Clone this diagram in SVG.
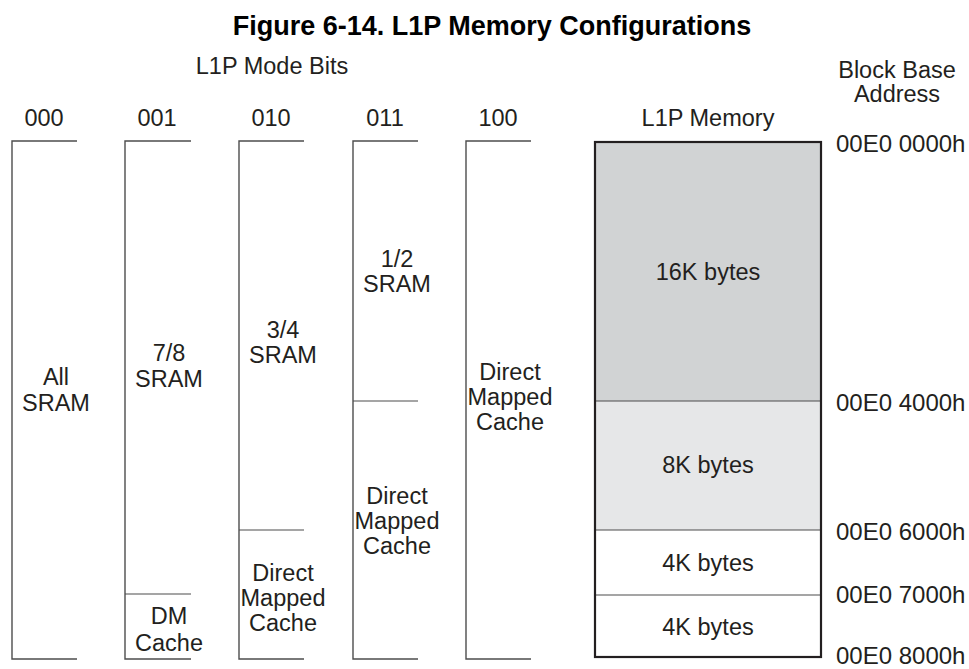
<svg xmlns="http://www.w3.org/2000/svg" width="969" height="669" viewBox="0 0 969 669">
  <style>
    text { font-family: "Liberation Sans", Arial, sans-serif; font-size: 23.5px; fill: #231f20; }
    .title { font-size: 27px; font-weight: bold; fill: #000; }
    .addr { font-size: 24px; }
    .mid { text-anchor: middle; }
    .col { fill: none; stroke: #4d4d4d; stroke-width: 1.4; }
    .div { stroke: #4d4d4d; stroke-width: 1.2; }
    .box { fill: none; stroke: #231f20; stroke-width: 2.2; }
  </style>

  <rect width="969" height="669" fill="#ffffff"/>

  <!-- headings -->
  <text class="title mid" x="492" y="35">Figure 6-14. L1P Memory Configurations</text>
  <text class="mid" x="272" y="74">L1P Mode Bits</text>
  <text class="mid" x="897" y="78">Block Base</text>
  <text class="mid" x="897" y="102">Address</text>

  <!-- mode bit column headers -->
  <text class="mid" x="44" y="126">000</text>
  <text class="mid" x="157" y="126">001</text>
  <text class="mid" x="271" y="126">010</text>
  <text class="mid" x="385" y="126">011</text>
  <text class="mid" x="498" y="126">100</text>
  <text class="mid" x="708" y="126">L1P Memory</text>

  <!-- mode 000 -->
  <g id="mode000">
    <path class="col" d="M77,141 H12 V659 H77"/>
    <text class="mid" x="56" y="385">All</text>
    <text class="mid" x="56" y="411">SRAM</text>
  </g>

  <!-- mode 001 -->
  <g id="mode001">
    <path class="col" d="M191,141 H125 V659 H191"/>
    <line class="div" x1="125" y1="594" x2="191" y2="594"/>
    <text class="mid" x="169" y="361">7/8</text>
    <text class="mid" x="169" y="387">SRAM</text>
    <text class="mid" x="169" y="624">DM</text>
    <text class="mid" x="169" y="651">Cache</text>
  </g>

  <!-- mode 010 -->
  <g id="mode010">
    <path class="col" d="M304,141 H239 V659 H304"/>
    <line class="div" x1="239" y1="530" x2="304" y2="530"/>
    <text class="mid" x="283" y="338">3/4</text>
    <text class="mid" x="283" y="363">SRAM</text>
    <text class="mid" x="283" y="581">Direct</text>
    <text class="mid" x="283" y="606">Mapped</text>
    <text class="mid" x="283" y="631">Cache</text>
  </g>

  <!-- mode 011 -->
  <g id="mode011">
    <path class="col" d="M418,141 H353 V659 H418"/>
    <line class="div" x1="353" y1="401" x2="418" y2="401"/>
    <text class="mid" x="397" y="267">1/2</text>
    <text class="mid" x="397" y="292">SRAM</text>
    <text class="mid" x="397" y="504">Direct</text>
    <text class="mid" x="397" y="529">Mapped</text>
    <text class="mid" x="397" y="554">Cache</text>
  </g>

  <!-- mode 100 -->
  <g id="mode100">
    <path class="col" d="M531,141 H466 V659 H531"/>
    <text class="mid" x="510" y="380">Direct</text>
    <text class="mid" x="510" y="405">Mapped</text>
    <text class="mid" x="510" y="430">Cache</text>
  </g>

  <!-- L1P memory blocks -->
  <g id="l1p-memory">
    <rect x="595" y="142" width="226" height="259" fill="#d1d3d4"/>
    <rect x="595" y="401" width="226" height="129" fill="#e6e7e8"/>
    <rect x="595" y="530" width="226" height="127" fill="#ffffff"/>
    <line class="div" x1="595" y1="401" x2="821" y2="401"/>
    <line class="div" x1="595" y1="530" x2="821" y2="530"/>
    <line class="div" x1="595" y1="595" x2="821" y2="595"/>
    <rect class="box" x="595" y="142" width="226" height="515"/>
    <text class="mid" x="708" y="280">16K bytes</text>
    <text class="mid" x="708" y="473">8K bytes</text>
    <text class="mid" x="708" y="571">4K bytes</text>
    <text class="mid" x="708" y="635">4K bytes</text>
  </g>

  <!-- block base addresses -->
  <g id="addresses">
    <text class="addr" x="836" y="152">00E0 0000h</text>
    <text class="addr" x="836" y="411">00E0 4000h</text>
    <text class="addr" x="836" y="540">00E0 6000h</text>
    <text class="addr" x="836" y="603">00E0 7000h</text>
    <text class="addr" x="836" y="664">00E0 8000h</text>
  </g>
</svg>
